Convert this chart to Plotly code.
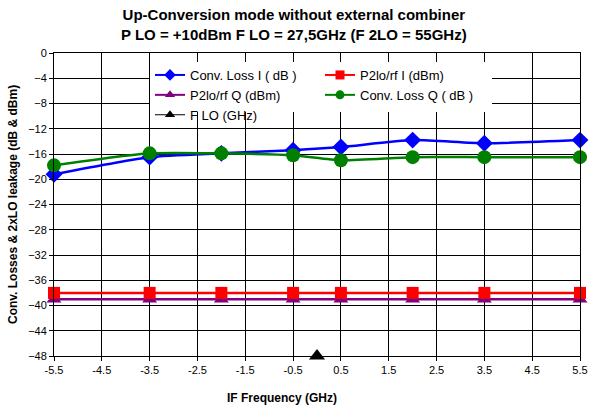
import plotly.graph_objects as go

if_freq = [-5.5, -3.5, -2, -0.5, 0.5, 2, 3.5, 5.5]
conv_loss_i = [-19.2, -16.5, -15.9, -15.4, -14.9, -13.8, -14.3, -13.8]
conv_loss_q = [-17.8, -15.9, -15.9, -16.2, -17.0, -16.5, -16.5, -16.5]
p2lo_rf_i = [-38, -38, -38, -38, -38, -38, -38, -38]
p2lo_rf_q = [-39, -39, -39, -39, -39, -39, -39, -39]
f_lo_x = [0]
f_lo_y = [-48]
x_ticks = [-5.5, -4.5, -3.5, -2.5, -1.5, -0.5, 0.5, 1.5, 2.5, 3.5, 4.5, 5.5]
y_ticks = list(range(0, -49, -4))

FONT = "Liberation Sans, Arial, sans-serif"

series = [
    # name, x, y, color, symbol, size, width, spline, legend
    ("Conv. Loss I ( dB )", if_freq, conv_loss_i, "#0000FF", "diamond", 13, 2.5, True, "legend"),
    ("P2lo/rf Q (dBm)", if_freq, p2lo_rf_q, "#800080", "triangle-up", 13, 2.5, False, "legend"),
    ("F LO (GHz)", f_lo_x, f_lo_y, "#000000", "triangle-up", 14, 1, False, "legend"),
    ("P2lo/rf I (dBm)", if_freq, p2lo_rf_i, "#FF0000", "square", 12, 2.5, False, "legend2"),
    ("Conv. Loss Q ( dB )", if_freq, conv_loss_q, "#008000", "circle", 14, 2.5, True, "legend2"),
]

fig = go.Figure()
for name, xs, ys, col, sym, sz, lw, spl, lg in series:
    line = dict(color=col, width=lw)
    if spl:
        line.update(shape="spline", smoothing=0.6)
    fig.add_trace(go.Scatter(x=xs, y=ys, name=name, mode="lines+markers", line=line,
                             marker=dict(symbol=sym, size=sz, color=col),
                             showlegend=False, cliponaxis=False))
for name, xs, ys, col, sym, sz, lw, spl, lg in series:
    fig.add_trace(go.Scatter(x=[None], y=[None], name=name, mode="lines+markers",
                             line=dict(color=col, width=2 if lw > 1 else 1),
                             marker=dict(symbol=sym, size=9, color=col),
                             showlegend=True, legend=lg))

W, H = 589, 410
ml, mr, mt, mb = 54, 9, 53, 54
pw, ph = W - ml - mr, H - mt - mb

def px_x(p):
    return (p - ml) / pw

def px_y(p):
    return 1 - (p - mt) / ph

fig.update_layout(
    width=W, height=H,
    margin=dict(l=ml, r=mr, t=mt, b=mb),
    paper_bgcolor="white", plot_bgcolor="white",
    font=dict(family=FONT, size=11, color="black"),
    showlegend=True,
    legend=dict(x=px_x(150), y=px_y(60), xanchor="left", yanchor="top",
                bgcolor="rgba(0,0,0,0)", font=dict(size=13, family=FONT),
                tracegroupgap=0, itemwidth=30, borderwidth=0),
    legend2=dict(x=px_x(320), y=px_y(60), xanchor="left", yanchor="top",
                 bgcolor="rgba(0,0,0,0)", font=dict(size=13, family=FONT),
                 tracegroupgap=0, itemwidth=30, borderwidth=0),
    xaxis=dict(range=[-5.5, 5.5], tickvals=x_ticks, ticktext=[str(v) for v in x_ticks],
               showgrid=True, gridcolor="black", gridwidth=1, zeroline=False,
               showline=True, linecolor="black", linewidth=1, mirror=True, automargin=False,
               ticks="outside", ticklen=4, tickcolor="black", tickfont=dict(size=11)),
    yaxis=dict(range=[-48, 0], tickvals=y_ticks,
               showgrid=True, gridcolor="black", gridwidth=1, zeroline=False,
               showline=True, linecolor="black", linewidth=1, mirror=True, automargin=False,
               ticks="outside", ticklen=4, tickcolor="black", tickfont=dict(size=11)),
    shapes=[dict(type="rect", xref="paper", yref="paper", layer="above",
                 x0=px_x(150), x1=px_x(492), y0=px_y(112), y1=px_y(62),
                 fillcolor="white", line=dict(width=0))],
    annotations=[
        dict(text="<b>Up-Conversion mode without external combiner<br>P LO = +10dBm F LO = 27,5GHz (F 2LO = 55GHz)</b>",
             xref="paper", yref="paper", x=px_x(294), y=px_y(24), xanchor="center", yanchor="middle",
             showarrow=False, font=dict(size=15, family=FONT), align="center"),
        dict(text="<b>IF Frequency (GHz)</b>", xref="paper", yref="paper",
             x=px_x(282), y=px_y(398), xanchor="center", yanchor="middle",
             showarrow=False, font=dict(size=12, family=FONT)),
        dict(text="<b>Conv. Losses & 2xLO leakage (dB & dBm)</b>", xref="paper", yref="paper",
             x=px_x(13), y=px_y(205), xanchor="center", yanchor="middle", textangle=-90,
             showarrow=False, font=dict(size=12, family=FONT)),
    ],
)

fig.write_html("out.html", config={"displayModeBar": False},
               post_script="document.body.style.margin='0';document.body.style.overflow='hidden';")
